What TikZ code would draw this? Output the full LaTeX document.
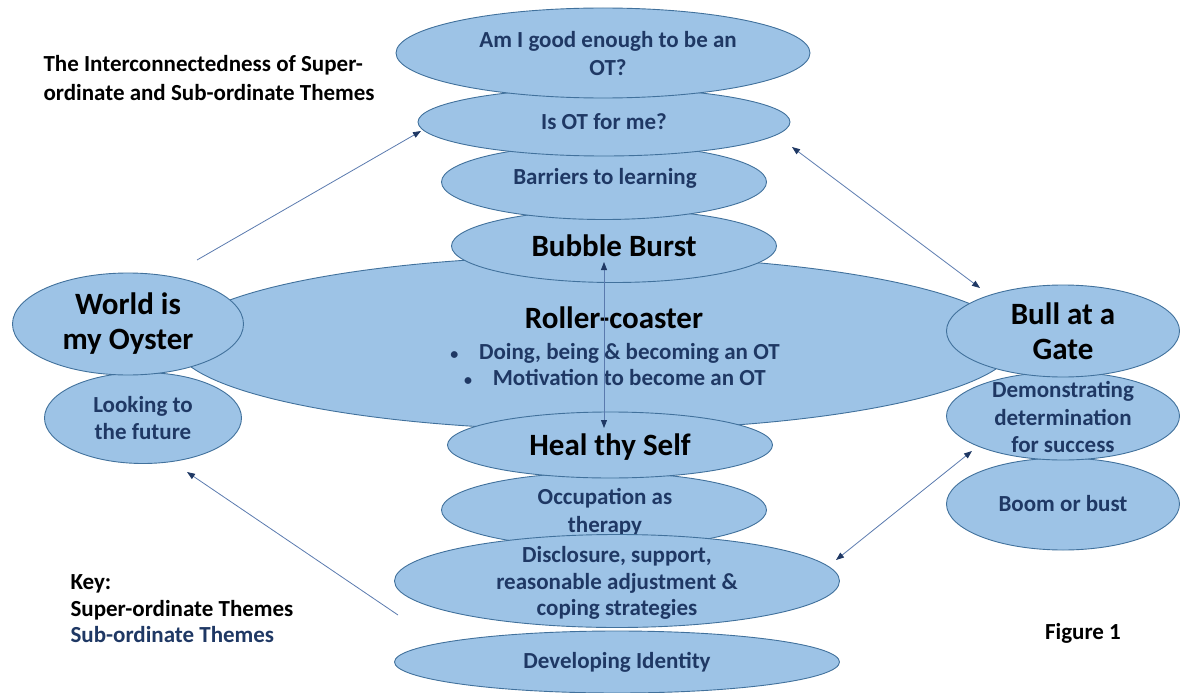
\documentclass[tikz,border=0pt]{standalone}
\usepackage{fontspec}
\setmainfont{Carlito}
\usetikzlibrary{shapes.geometric,arrows.meta}

\definecolor{themefill}{HTML}{9DC3E6}
\definecolor{themeline}{HTML}{41719C}
\definecolor{subnavy}{HTML}{1F3864}
\definecolor{linkline}{HTML}{5A7AAE}

\tikzset{
  theme/.style 2 args={ellipse, draw=themeline, fill=themefill, line width=0.9pt,
                       inner sep=0pt, minimum width=#1pt, minimum height=#2pt},
  suptxt/.style={font=\bfseries\fontsize{31}{35}\selectfont, text=black, align=center},
  subtxt/.style={font=\bfseries\fontsize{23}{27.5}\selectfont, text=subnavy, align=center},
  link/.style={draw=linkline, line width=0.8pt,
               >={Triangle[color=subnavy,length=8pt,width=6pt]}},
}

\begin{document}
\begin{tikzpicture}[x=1pt,y=-1pt]
  \useasboundingbox (0,0) rectangle (1181,693);

  % middle: roller-coaster
  \node[theme={840}{174}] (roller) at (595,343) {};
  \node[suptxt] (roller-t) at (614,318) {Roller-coaster};
  \node[subtxt, font=\bfseries\fontsize{23}{26}\selectfont] (roller-b) at (615,365)
       {{\fontsize{16}{16}\selectfont\textbullet}\hspace{0.9em}Doing, being \& becoming an OT\\
        {\fontsize{16}{16}\selectfont\textbullet}\hspace{0.9em}Motivation to become an OT};

  % lower stack: heal thy self
  \node[theme={445}{62}] (ident) at (617,662) {};
  \node[subtxt] (ident-t) at (ident) {Developing Identity};
  \node[theme={325}{75}] (occup) at (604,510) {};
  \node[subtxt] (occup-t) at (605,512) {Occupation as\\therapy};
  \node[theme={445}{93}] (discl) at (617,581) {};
  \node[subtxt, font=\bfseries\fontsize{23}{26.5}\selectfont] (discl-t) at (617,583)
       {Disclosure, support,\\reasonable adjustment \&\\coping strategies};
  \node[theme={325}{66}] (heal) at (610,445) {};
  \node[suptxt] (heal-t) at (610,447) {Heal thy Self};

  % upper stack: bubble burst
  \node[theme={325}{73}] (bubble) at (614,246) {};
  \node[suptxt] (bubble-t) at (bubble) {Bubble Burst};
  \node[theme={325}{75}] (barrier) at (604,182) {};
  \node[subtxt] (barrier-t) at (605,178) {Barriers to learning};
  \node[theme={372}{68}] (isot) at (604,122) {};
  \node[subtxt] (isot-t) at (isot) {Is OT for me?};
  \node[theme={414}{90}] (good) at (603,53) {};
  \node[subtxt, font=\bfseries\fontsize{23}{28}\selectfont] (good-t) at (608,54)
       {Am I good enough to be an\\OT?};

  % left: world is my oyster
  \node[theme={197}{91}] (future) at (143,418) {};
  \node[subtxt] (future-t) at (future) {Looking to\\the future};
  \node[theme={231}{102}] (oyster) at (128,324) {};
  \node[suptxt] (oyster-t) at (oyster) {World is\\my Oyster};

  % right: bull at a gate
  \node[theme={233}{92}] (boom) at (1063,504) {};
  \node[subtxt] (boom-t) at (boom) {Boom or bust};
  \node[theme={233}{88}] (determ) at (1063,416) {};
  \node[subtxt] (determ-t) at (1063,417) {Demonstrating\\determination\\for success};
  \node[theme={233}{92}] (bull) at (1063,331) {};
  \node[suptxt] (bull-t) at (bull) {Bull at a\\Gate};

  % title, key, figure number
  \node[subtxt, text=black, font=\bfseries\fontsize{23}{29}\selectfont, align=left,
        anchor=west] (title) at (40,78)
       {The Interconnectedness of Super-\\ordinate and Sub-ordinate Themes};
  \node[subtxt, text=black, font=\bfseries\fontsize{23}{26.5}\selectfont, align=left,
        anchor=west] (key) at (67,609)
       {Key:\\Super-ordinate Themes\\\textcolor{subnavy}{Sub-ordinate Themes}};
  \node[subtxt, text=black, font=\bfseries\fontsize{23}{26}\selectfont] (fig) at (1083,633)
       {Figure 1};

  % connectors
  \coordinate (oyster-out) at (197,260);
  \coordinate (isot-in) at (421,131);
  \coordinate (isot-r) at (792,147);
  \coordinate (bull-in) at (980,288);
  \coordinate (bubble-in) at (604,262);
  \coordinate (heal-in) at (604,428);
  \coordinate (discl-out) at (398,615);
  \coordinate (future-in) at (187,472);
  \coordinate (discl-r) at (836,560);
  \coordinate (determ-in) at (972,451);

  \draw[link,->] (oyster-out) -- (isot-in);
  \draw[link,<->] (isot-r) -- (bull-in);
  \draw[link,<->] (heal-in) -- (bubble-in);
  \draw[link,->] (discl-out) -- (future-in);
  \draw[link,<->] (discl-r) -- (determ-in);
\end{tikzpicture}
\end{document}
